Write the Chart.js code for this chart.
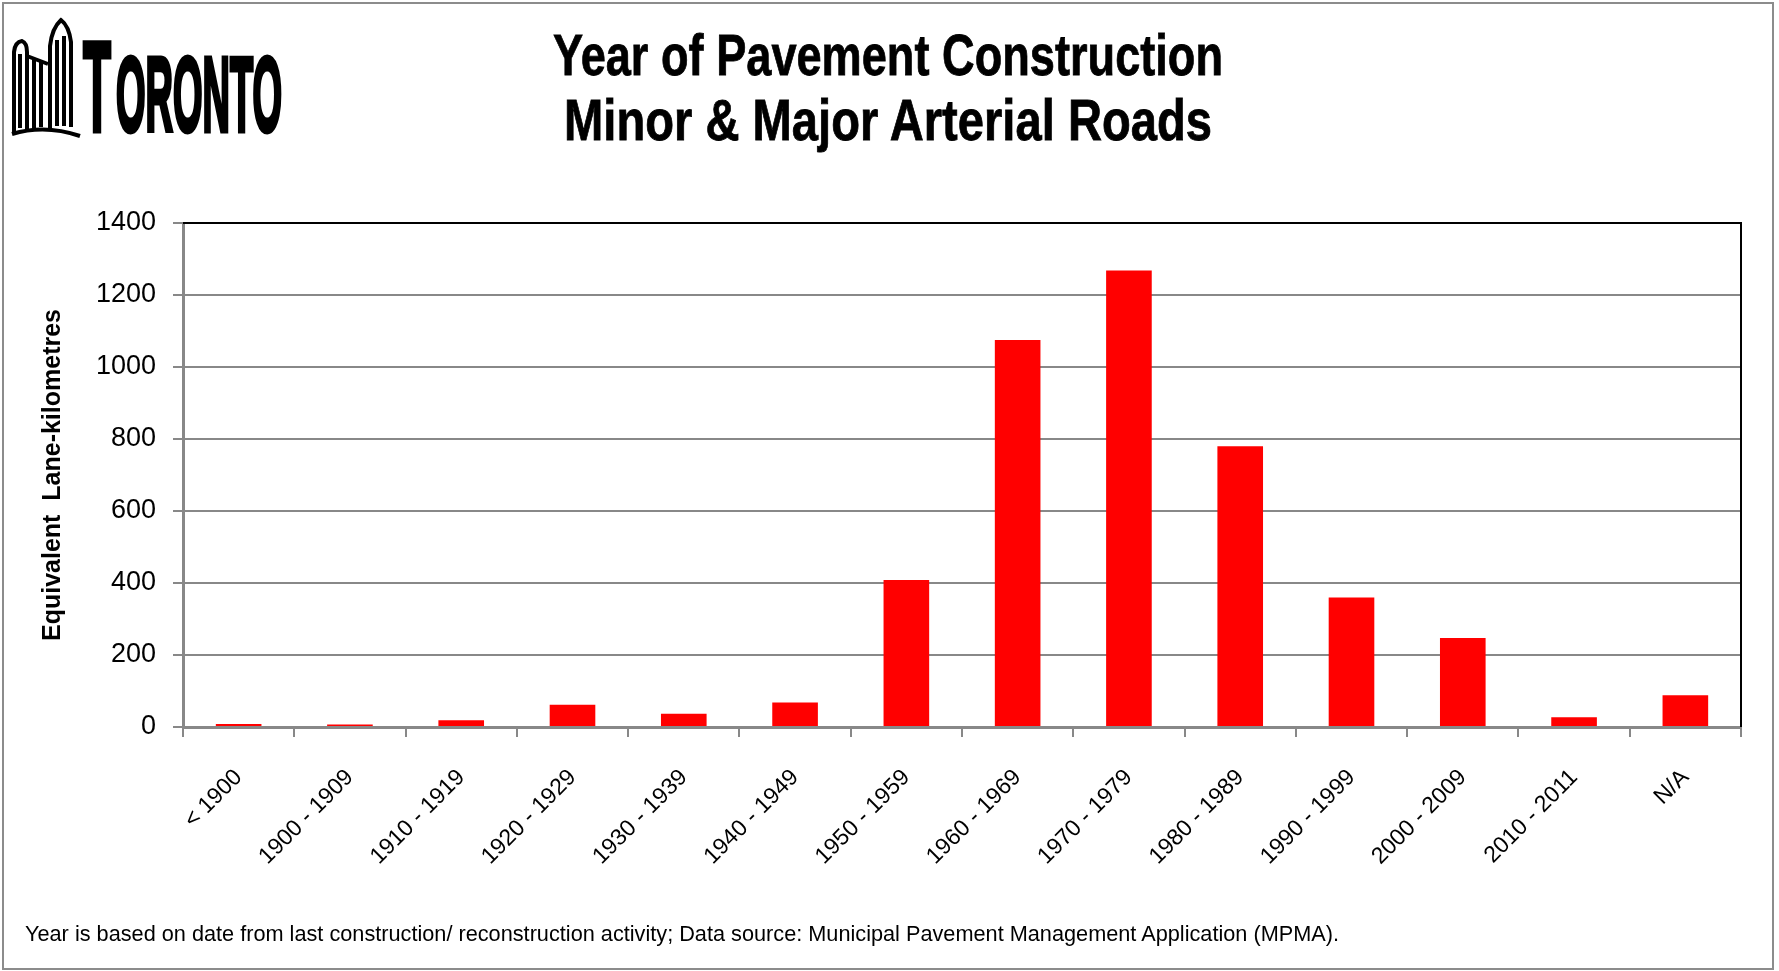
<!DOCTYPE html>
<html>
<head>
<meta charset="utf-8">
<script src="https://cdn.jsdelivr.net/npm/chart.js@4.4.1/dist/chart.umd.min.js"></script>
<style>
  body { margin: 0; background: #fff; }
  #wrap { position: relative; width: 1779px; height: 971px; background: #fff; }
  #chart { position: absolute; left: 0; top: 0; }
  #overlay { position: absolute; left: 0; top: 0; pointer-events: none; }
</style>
</head>
<body>
<div id="wrap">
  <canvas id="chart" width="1779" height="971"></canvas>
  <svg id="overlay" width="1779" height="971" xmlns="http://www.w3.org/2000/svg">
    <rect x="3" y="3" width="1770" height="966" fill="none" stroke="#8c8c8c" stroke-width="2"/>
    <!-- city hall logo -->
    <g fill="none" stroke="#000" stroke-width="4">
      <path d="M14,132 L14,52 Q15,42 22,41 Q27,43 27,52 L27,130"/>
      <path d="M20,54 L20,128"/>
      <path d="M27,56 L48,64"/>
      <path d="M34,60 L34,128 M41,62 L41,127"/>
      <path d="M50,128 L50,46 Q52,28 61,20 Q69,26 71,42 L71,127"/>
      <path d="M57,40 L57,126 M64,36 L64,126"/>
      <path d="M12,134 Q45,124 80,136"/>
    </g>
    <g font-family="Liberation Sans, Arial, sans-serif" font-weight="bold" fill="#000">
      <g stroke="#000" stroke-width="5" stroke-linejoin="miter">
        <text x="83" y="131" font-size="128" textLength="28" lengthAdjust="spacingAndGlyphs">T</text>
        <text x="116" y="131" font-size="106" textLength="166" lengthAdjust="spacingAndGlyphs">ORONTO</text>
      </g>
      <g stroke="#000" stroke-width="0.8">
        <text x="553" y="75" font-size="58" textLength="670" lengthAdjust="spacingAndGlyphs">Year of Pavement Construction</text>
        <text x="564" y="140" font-size="58" textLength="648" lengthAdjust="spacingAndGlyphs">Minor &amp; Major Arterial Roads</text>
      </g>
    </g>
    <text x="25" y="941" font-family="Liberation Sans, Arial, sans-serif" font-size="22" fill="#000"
          textLength="1314" lengthAdjust="spacingAndGlyphs">Year is based on date from last construction/ reconstruction activity; Data source: Municipal Pavement Management Application (MPMA).</text>
  </svg>
</div>
<script>
const categories = ['< 1900', '1900 - 1909', '1910 - 1919', '1920 - 1929', '1930 - 1939', '1940 - 1949',
    '1950 - 1959', '1960 - 1969', '1970 - 1979', '1980 - 1989', '1990 - 1999', '2000 - 2009',
    '2010 - 2011', 'N/A'];
const laneKm = [8, 7, 19, 62, 37, 68, 408, 1075, 1268, 780, 360, 247, 27, 88];
const yTicks = [0, 200, 400, 600, 800, 1000, 1200, 1400];

// black frame on top and right of the plot, like the Excel chart
const plotFrame = {
    id: 'plotFrame',
    afterDraw(chart) {
        const { ctx, chartArea } = chart;
        ctx.save();
        ctx.strokeStyle = '#000';
        ctx.lineWidth = 2;
        ctx.beginPath();
        ctx.moveTo(chartArea.left, chartArea.top);
        ctx.lineTo(chartArea.right, chartArea.top);
        ctx.lineTo(chartArea.right, chartArea.bottom);
        ctx.stroke();
        ctx.restore();
    }
};

const ctx = document.getElementById('chart').getContext('2d');
new Chart(ctx, {
    type: 'bar',
    data: {
        labels: categories,
        datasets: [{
            data: laneKm,
            backgroundColor: '#ff0000',
            borderWidth: 0,
            barPercentage: 0.41,
            categoryPercentage: 1
        }]
    },
    options: {
        responsive: false,
        animation: false,
        devicePixelRatio: 1,
        layout: { padding: { left: 0, top: 223, right: 38, bottom: 0 } },
        plugins: {
            legend: { display: false },
            tooltip: { enabled: false }
        },
        scales: {
            x: {
                offset: true,
                afterFit: (scale) => { scale.height = 244; },
                grid: { drawOnChartArea: false, offset: true, tickLength: 10, color: '#888', lineWidth: 2 },
                border: { color: '#888', width: 3 },
                ticks: {
                    minRotation: 45, maxRotation: 45, autoSkip: false, padding: 27,
                    color: '#000',
                    font: { family: 'Liberation Sans, Arial, sans-serif', size: 23 }
                }
            },
            y: {
                min: 0, max: 1400,
                afterFit: (scale) => { scale.width = 183; },
                afterBuildTicks: (scale) => { scale.ticks = yTicks.map(v => ({ value: v })); },
                grid: { color: '#888', lineWidth: 2, tickLength: 10 },
                border: { color: '#888', width: 3 },
                ticks: {
                    padding: 17, color: '#000',
                    callback: (v) => String(v),
                    font: { family: 'Liberation Sans, Arial, sans-serif', size: 27 }
                },
                title: {
                    display: true,
                    text: 'Equivalent  Lane-kilometres',
                    color: '#000',
                    padding: { top: 38, bottom: 0 },
                    font: { family: 'Liberation Sans, Arial, sans-serif', size: 25, weight: 'bold' }
                }
            }
        }
    },
    plugins: [plotFrame]
});
</script>
</body>
</html>
